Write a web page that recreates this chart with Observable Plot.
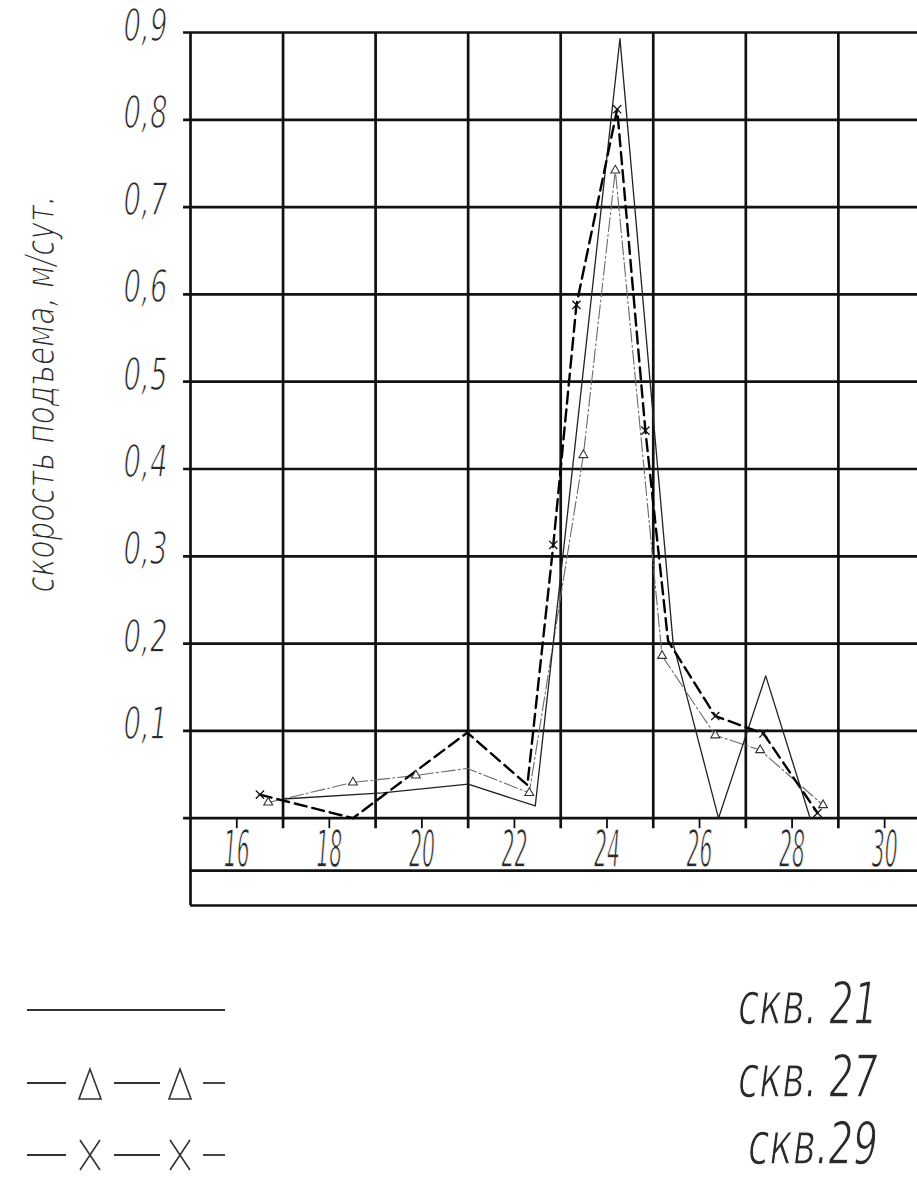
<!DOCTYPE html>
<html><head><meta charset="utf-8">
<script src="https://cdn.jsdelivr.net/npm/d3@7"></script>
<script src="https://cdn.jsdelivr.net/npm/@observablehq/plot@0.6"></script>
<style>
html,body{margin:0;padding:0;background:#fff;overflow:hidden;}
#chart svg,#legend svg{display:block;}
</style></head>
<body><div id="chart"></div><div id="legend"></div>
<script>
// ---- data ----
const xTickLabels = [16, 18, 20, 22, 24, 26, 28, 30];
const xGrid = [17, 19, 21, 23, 25, 27, 29];
const yTicks = [0.1, 0.2, 0.3, 0.4, 0.5, 0.6, 0.7, 0.8, 0.9];
const yTitle = "скорость подъема, м/сут.";
const seriesNames = ["скв. 21", "скв. 27", "скв.29"];

// скв. 21 (solid, no markers)
const well21X = [17.0, 19.15, 21.0, 22.45, 24.28, 25.43, 26.41, 27.43, 28.39];
const well21Y = [0.022, 0.029, 0.039, 0.014, 0.893, 0.200, 0.0, 0.163, 0.0];
// скв. 27 (dash-dot, triangles)
const well27X = [16.68, 18.51, 19.87, 20.98, 22.32, 23.49, 24.18, 25.19, 26.34, 27.31, 28.67];
const well27Y = [0.018, 0.041, 0.049, 0.057, 0.029, 0.416, 0.742, 0.186, 0.095, 0.078, 0.015];
const well27Marked = [1, 1, 1, 0, 1, 1, 1, 1, 1, 1, 1];
// скв. 29 (dashed, crosses)
const well29X = [16.5, 18.51, 20.98, 22.28, 22.84, 23.34, 24.22, 24.83, 25.32, 26.34, 27.38, 28.55];
const well29Y = [0.027, 0.0, 0.098, 0.038, 0.313, 0.588, 0.812, 0.444, 0.203, 0.117, 0.097, 0.006];
const well29Marked = [1, 0, 0, 0, 1, 1, 1, 1, 0, 1, 1, 1];

// ---- build tables ----
const rows = (xs, ys, ms) => xs.map((x, i) => ({x, y: ys[i], m: ms ? ms[i] : 0}));
const d21 = rows(well21X, well21Y);
const d27 = rows(well27X, well27Y, well27Marked);
const d29 = rows(well29X, well29Y, well29Marked);

const font = '"Liberation Sans Narrow","DejaVu Sans Condensed","Arial Narrow","DejaVu Sans",sans-serif';
const comma = d => d.toFixed(1).replace(".", ",");
const gridColor = "#111";
const textColor = "#2a2a2a";
const thin = {stroke: "white", strokeWidth: 1.3, paintOrder: "normal"};

const chart = Plot.plot({
  width: 917, height: 910,
  marginLeft: 190, marginRight: 0, marginTop: 32, marginBottom: 5,
  x: {domain: [15, 30.71], axis: null},
  y: {domain: [-0.1, 0.9], axis: null},
  style: {background: "white", fontFamily: font},
  marks: [
    // grid and frame
    Plot.ruleY([0, ...yTicks], {x1: 14.85, x2: 30.71, stroke: gridColor, strokeWidth: 2.7}),
    Plot.ruleY([-0.06, -0.1], {x1: 15, x2: 30.71, stroke: gridColor, strokeWidth: 2.7}),
    Plot.ruleX([15], {y1: -0.1, y2: 0.9, stroke: gridColor, strokeWidth: 2.7}),
    Plot.ruleX(xGrid, {y1: -0.012, y2: 0.9, stroke: gridColor, strokeWidth: 2.7}),
    Plot.ruleX(xTickLabels, {y1: -0.012, y2: 0, stroke: gridColor, strokeWidth: 1.8}),
    // series
    Plot.line(d27, {x: "x", y: "y", stroke: "#6a6a6a", strokeWidth: 1.1, strokeDasharray: "14,3,2,3"}),
    Plot.line(d21, {x: "x", y: "y", stroke: "#222", strokeWidth: 1.3}),
    Plot.line(d29, {x: "x", y: "y", stroke: "#000", strokeWidth: 2.4, strokeDasharray: "12,6"}),
    Plot.dot(d27.filter(d => d.m), {x: "x", y: "y", symbol: "triangle", r: 3.3, stroke: "#333", strokeWidth: 1.1, fill: "white"}),
    Plot.dot(d29.filter(d => d.m), {x: "x", y: "y", symbol: "times", r: 3.8, stroke: "#111", strokeWidth: 1.3}),
    // y labels
    Plot.text(yTicks, {y: d => d, frameAnchor: "left", text: comma, textAnchor: "end", lineAnchor: "bottom",
      dx: -23, dy: 8, fontSize: 44, fontStyle: "italic", fill: textColor, ...thin}),
    // x labels
    Plot.text(xTickLabels, {x: d => d, frameAnchor: "bottom", text: d => String(d), textAnchor: "middle", lineAnchor: "bottom",
      dy: -39, fontSize: 52, fontStyle: "italic", fill: textColor, ...thin}),
    // y title
    Plot.text([yTitle], {frameAnchor: "left", text: d => d, rotate: -90, textAnchor: "middle", lineAnchor: "middle",
      dx: -150, dy: -75, fontSize: 41, fontStyle: "italic", fill: textColor, ...thin})
  ]
});
document.getElementById("chart").appendChild(chart);

// narrow the glyphs like a drafting (GOST) font, via a horizontal scale
const squeeze = (t, len) => {
  const L = t.getComputedTextLength();
  if (!L) return;
  const sx = len / L;
  const tr = t.getAttribute("transform");
  if (tr) {
    t.setAttribute("transform", `${tr} scale(${sx},1)`);
  } else {
    const x = +(t.getAttribute("x") || 0), y = +(t.getAttribute("y") || 0);
    t.removeAttribute("x"); t.removeAttribute("y");
    t.setAttribute("transform", `translate(${x},${y}) scale(${sx},1)`);
  }
};
chart.querySelectorAll("text").forEach(t => {
  const s = t.textContent;
  if (/^0,\d$/.test(s)) squeeze(t, 44);
  else if (/^\d\d$/.test(s)) squeeze(t, 26);
  else if (s === yTitle) squeeze(t, 397);
});

// ---- legend ----
const lg = d3.create("svg").attr("width", 917).attr("height", 270).style("background", "white");
const rowY = [100, 173, 245];
const textY = [114, 187, 254];
const symStroke = "#333";
const segs = [[27, 66], [114, 160], [203, 225]];
const centers = [90, 180];
lg.append("line").attr("x1", 27).attr("x2", 225).attr("y1", rowY[0]).attr("y2", rowY[0])
  .attr("stroke", symStroke).attr("stroke-width", 1.8);
[1, 2].forEach(r => {
  const y = rowY[r];
  segs.forEach(([a, b]) => lg.append("line").attr("x1", a).attr("x2", b).attr("y1", y).attr("y2", y)
    .attr("stroke", symStroke).attr("stroke-width", 1.8));
  centers.forEach(cx => {
    if (r === 1) {
      lg.append("path").attr("d", `M${cx},${y - 14}L${cx - 11},${y + 16}L${cx + 11},${y + 16}Z`)
        .attr("fill", "none").attr("stroke", symStroke).attr("stroke-width", 1.6);
    } else {
      lg.append("path").attr("d", `M${cx - 10},${y - 15}L${cx + 10},${y + 15}M${cx + 10},${y - 15}L${cx - 10},${y + 15}`)
        .attr("fill", "none").attr("stroke", symStroke).attr("stroke-width", 1.6);
    }
  });
});
document.getElementById("legend").appendChild(lg.node());
const legendWidths = [140, 140, 130];
seriesNames.forEach((name, i) => {
  const t = lg.append("text").attr("x", 878).attr("y", textY[i]).attr("text-anchor", "end")
    .attr("font-family", font).attr("font-style", "italic").attr("font-size", 58)
    .attr("fill", textColor).attr("stroke", "white").attr("stroke-width", 1.3)
    .text(name);
  squeeze(t.node(), legendWidths[i]);
});
</script>
</body></html>
